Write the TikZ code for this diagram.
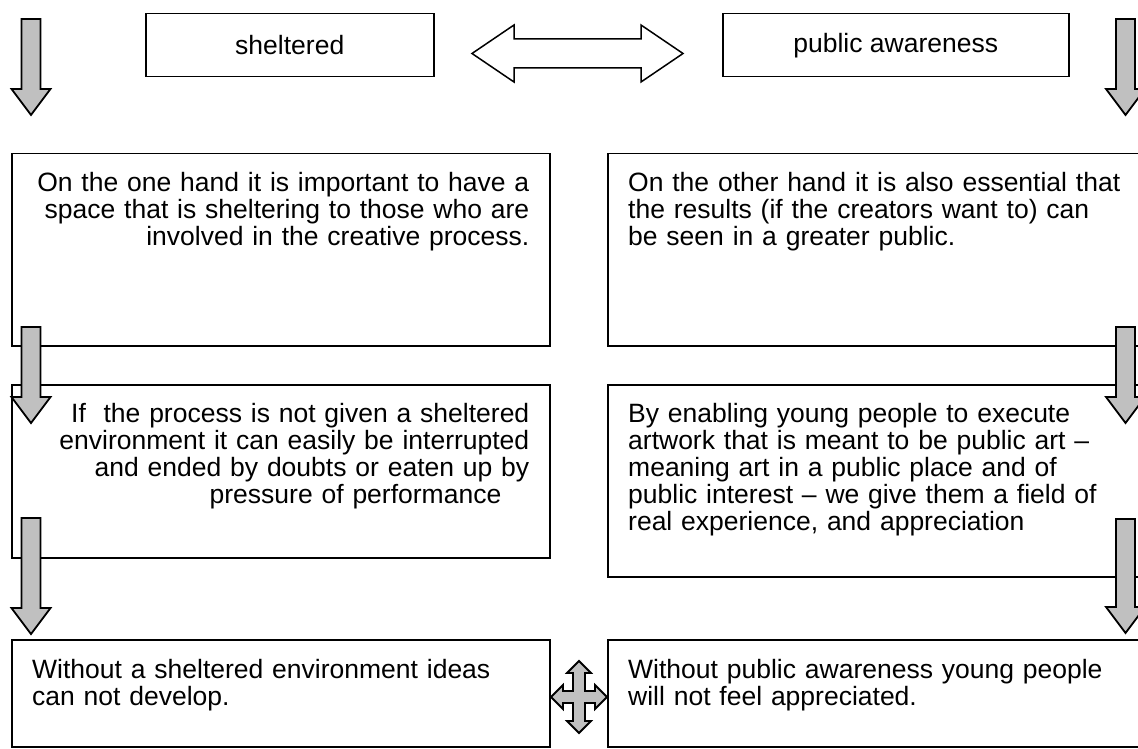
\documentclass[tikz,border=0pt]{standalone}
\usepackage{fontspec}
\setmainfont{Liberation Sans}
\usetikzlibrary{positioning}
\definecolor{arrowgray}{HTML}{C0C0C0}
\tikzset{
  box/.style={draw, line width=1.5pt, rectangle, inner sep=0pt, anchor=north west},
  boxtext/.style={inner sep=0pt, font=\fontsize{26.5}{27}\selectfont},
  blockarrow/.style={draw, fill=arrowgray, line width=1.8pt, line join=miter},
  openarrow/.style={draw, fill=white, line width=1.5pt, line join=miter},
}

\begin{document}
\begin{tikzpicture}[x=1pt, y=-1pt]
    \path[use as bounding box, clip] (0,0) rectangle (1138,749);

    \node[box, boxtext, minimum width=288pt, minimum height=63pt] (sheltered) at (145,13) {sheltered};
    \node[box, boxtext, minimum width=346pt, minimum height=63pt] (awareness) at (722,13) {public awareness};

    \node[box, minimum width=538pt, minimum height=192pt] (shelterneed) at (11,153) {};
    \node[box, minimum width=553pt, minimum height=192pt] (publicneed) at (607,153) {};
    \node[box, minimum width=538pt, minimum height=173pt] (shelterwhy) at (11,384) {};
    \node[box, minimum width=553pt, minimum height=192pt] (publicwhy) at (607,384) {};
    \node[box, minimum width=538pt, minimum height=107pt] (shelterend) at (11,639) {};
    \node[box, minimum width=553pt, minimum height=107pt] (publicend) at (607,639) {};

    \node[boxtext, text width=496pt, align=right, below left=19pt and 21pt of shelterneed.north east] (shelterneedtext)
        {On the one hand it is important to have a\\space that is sheltering to those who are\\involved in the creative process.};
    \node[boxtext, text width=500pt, align=left, below right=19pt and 21pt of publicneed.north west] (publicneedtext)
        {On the other hand it is also essential that\\the results (if the creators want to) can\\be seen in a greater public.};
    \node[boxtext, text width=496pt, align=right, below left=19pt and 21pt of shelterwhy.north east] (shelterwhytext)
        {If\ \ the process is not given a sheltered\\environment it can easily be interrupted\\and ended by doubts or eaten up by\\pressure of performance\rule{28pt}{0pt}};
    \node[boxtext, text width=500pt, align=left, below right=19pt and 21pt of publicwhy.north west] (publicwhytext)
        {By enabling young people to execute\\artwork that is meant to be public art --\\meaning art in a public place and of\\public interest -- we give them a field of\\real experience, and appreciation};
    \node[boxtext, text width=496pt, align=left, below right=20pt and 21pt of shelterend.north west] (shelterendtext)
        {Without a sheltered environment ideas\\can not develop.};
    \node[boxtext, text width=500pt, align=left, below right=20pt and 21pt of publicend.north west] (publicendtext)
        {Without public awareness young people\\will not feel appreciated.};

    % arrow both ways between the two headings
    \draw[openarrow] (472,53.5) -- (514,25) -- (514,39) -- (641,39) -- (641,25) -- (683,53.5)
        -- (641,82) -- (641,68) -- (514,68) -- (514,82) -- cycle;

    % down arrows on both sides
    \foreach \colx/\ytop/\ytip in {31/19/115, 1125.5/19/115, 31/327/423, 1125.5/327/423, 31/518/634, 1125.5/519/633}
        \draw[blockarrow] (\colx-9.5,\ytop) -- (\colx+9.5,\ytop) -- (\colx+9.5,\ytip-26) -- (\colx+19.5,\ytip-26)
            -- (\colx,\ytip) -- (\colx-19.5,\ytip-26) -- (\colx-9.5,\ytip-26) -- cycle;

    % four way arrow between the last boxes
    \draw[blockarrow, shift={(579,697)}] (0,-36) -- (12,-24) -- (6,-24) -- (6,-6) -- (16,-6) -- (16,-12) -- (28,0)
        -- (16,12) -- (16,6) -- (6,6) -- (6,24) -- (12,24) -- (0,36) -- (-12,24) -- (-6,24) -- (-6,6)
        -- (-16,6) -- (-16,12) -- (-28,0) -- (-16,-12) -- (-16,-6) -- (-6,-6) -- (-6,-24) -- (-12,-24) -- cycle;
\end{tikzpicture}
\end{document}
